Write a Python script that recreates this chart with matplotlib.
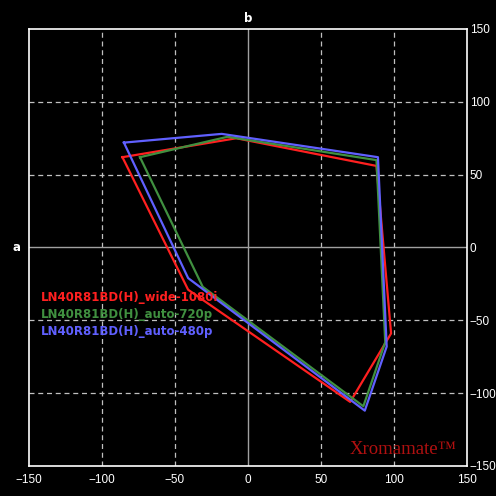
import matplotlib
matplotlib.use("Agg")
import matplotlib.pyplot as plt

series_names = ["LN40R81BD(H)_wide-1080i", "LN40R81BD(H)_auto-720p", "LN40R81BD(H)_auto-480p"]
series_colors = ["#ff2020", "#409040", "#6060ff"]

red_a = [-86, -8, 88, 98, 70, -41]
red_b = [62, 75, 56, -59, -106, -29]
green_a = [-74, -14, 88, 94, 79, -31]
green_b = [62, 76, 60, -65, -109, -27]
blue_a = [-85, -18, 89, 95, 80, -41]
blue_b = [72, 78, 62, -68, -112, -21]

ticks = [-150, -100, -50, 0, 50, 100, 150]

fig = plt.figure(figsize=(4.96, 4.96), dpi=100, facecolor="black")
ax = fig.add_axes([29/496, 30/496, 438/496, 437/496], facecolor="black")
ax.set_xlim(-150, 150)
ax.set_ylim(-150, 150)

for v in [-100, -50, 50, 100]:
    ax.axvline(v, color="#c0c0c0", lw=0.9, ls=(0, (4, 3)), zorder=1)
    ax.axhline(v, color="#c0c0c0", lw=0.9, ls=(0, (4, 3)), zorder=1)
ax.axvline(0, color="#a0a0a0", lw=1.0, zorder=1)
ax.axhline(0, color="#a0a0a0", lw=1.0, zorder=1)

data = [(red_a, red_b), (green_a, green_b), (blue_a, blue_b)]
for (xa, yb), c in zip(data, series_colors):
    ax.plot(xa + xa[:1], yb + yb[:1], color=c, lw=1.6, zorder=3)

for sp in ax.spines.values():
    sp.set_color("white")
    sp.set_linewidth(1.2)

ax.set_xticks(ticks)
ax.set_yticks(ticks)
ax.tick_params(axis="x", colors="white", length=0, pad=6)
ax.tick_params(axis="y", colors="white", length=0, pad=2,
               left=False, labelleft=False, right=True, labelright=True)
for lab in ax.get_xticklabels() + ax.get_yticklabels():
    lab.set_color("white")
    lab.set_family("Liberation Sans")
    lab.set_fontsize(8.5)

ax.text(0, 153, "b", color="white", ha="center", va="bottom", fontsize=8.5, fontweight="bold")
ax.text(-156, 0, "a", color="white", ha="right", va="center", fontsize=8.5, fontweight="bold")

for i, (name, c) in enumerate(zip(series_names, series_colors)):
    ax.text(-142, -34 - i * 12, name, color=c, fontsize=8.5, fontweight="bold",
            ha="left", va="center", zorder=4)

ax.text(143, -139, "Xromamate\u2122", color="#b01010", fontsize=13.5,
        family="Liberation Serif", ha="right", va="center", zorder=4)

fig.savefig("out.png", dpi=100, facecolor="black")
